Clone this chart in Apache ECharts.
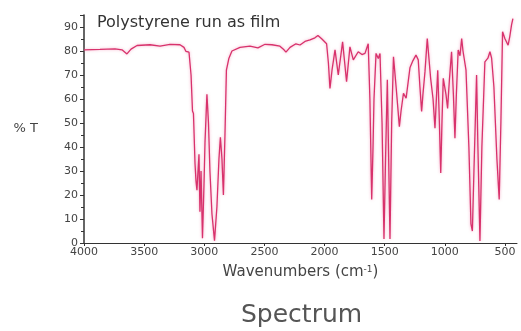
<!DOCTYPE html>
<html>
<head>
<meta charset="utf-8">
<script src="https://cdn.jsdelivr.net/npm/echarts@6/dist/echarts.min.js"></script>
<style>
  html, body { margin: 0; padding: 0; background: #fff; }
  #chart-container { width: 521px; height: 331px; }
</style>
</head>
<body>
<div id="chart-container"></div>
<script>
// IR spectrum of polystyrene
var wavenumbers = [
  4000, 3867, 3742, 3684, 3643, 3609, 3559, 3451, 3368, 3285, 3202, 3169, 3152, 3127,
  3110, 3098, 3090, 3077, 3069, 3061, 3052, 3044, 3036, 3027, 3015, 3002, 2994, 2978,
  2965, 2953, 2936, 2915, 2895, 2878, 2866, 2853, 2841, 2828, 2816, 2795, 2770,
  2703, 2620, 2554, 2495, 2437, 2371, 2337, 2321, 2287, 2238, 2204, 2163, 2121, 2080,
  2055, 2022, 1983, 1968, 1955, 1938, 1913, 1886, 1850, 1817, 1789, 1761, 1720, 1689,
  1664, 1637, 1623, 1608, 1597, 1589, 1572, 1553, 1539, 1522, 1506, 1493, 1478, 1467,
  1456, 1442, 1427, 1405, 1378, 1364, 1344, 1322, 1290, 1265, 1240, 1221, 1207, 1193,
  1182, 1165, 1146, 1118, 1098, 1082, 1059, 1048, 1034, 1024, 1013, 990, 977, 962,
  944, 929, 916, 904, 889, 874, 860, 849, 824, 800, 783, 771, 758, 736, 725, 708,
  692, 667, 642, 625, 611, 592, 567, 548, 534, 520, 501, 474, 460, 445, 434
];
var transmittance = [
  80.5, 80.7, 80.9, 80.5, 78.8, 80.8, 82.3, 82.6, 82.0, 82.8, 82.6, 81.5, 79.8, 79.5,
  70, 55, 54, 33, 26, 22, 30, 37, 13, 30, 2, 25, 42, 62,
  50, 30, 12, 1, 15, 35, 44, 35, 20, 45, 72, 77, 80,
  81.5, 82, 81.3, 82.8, 82.6, 82, 80.5, 79.5, 81.5, 83, 82.5, 84, 84.6, 85.5,
  86.5, 85, 83, 75, 64.4, 72, 80.5, 70, 83.8, 67.2, 81.7, 76.3, 79.7, 78.5,
  79, 83, 60, 18.1, 40, 60, 79, 76.9, 79, 50, 1.7, 35, 68, 35,
  1.7, 50, 77.6, 65, 48.5, 55, 62.4, 60.3, 73, 76, 78.3, 76.3, 65, 54.8,
  62, 71.4, 85.2, 68.6, 60, 47.8, 72, 55, 29.2, 50, 68.6, 61.7, 56.1, 68,
  79.7, 62, 43.7, 62, 80.4, 78, 85.2, 80, 72, 40, 8, 5, 30, 70, 40, 0.8,
  40, 75.5, 77, 79.7, 77, 65, 35, 18.1, 50, 88, 85.2, 82.4, 86, 91, 93.5
];
var xTicks = [4000, 3500, 3000, 2500, 2000, 1500, 1000, 500];

var points = wavenumbers.map(function (w, i) {
  return [w, transmittance[i]];
});

var dom = document.getElementById('chart-container');
var myChart = echarts.init(dom, null, { renderer: 'canvas' });

var option = {
  animation: false,
  textStyle: { fontFamily: 'DejaVu Sans' },
  grid: { left: 84, right: 4, top: 15, bottom: 88 },
  title: {
    text: 'Spectrum',
    left: 236,
    top: 298,
    textStyle: { fontFamily: 'DejaVu Sans', fontSize: 25, fontWeight: 'normal', color: '#555' }
  },
  graphic: [{
    type: 'text',
    left: 97,
    top: 15,
    style: { text: 'Polystyrene run as film', font: '16px "DejaVu Sans"', fill: '#333' }
  }],
  xAxis: {
    type: 'value',
    inverse: true,
    min: 400,
    max: 4000,
    name: 'Wavenumbers (cm{sup|-1})',
    nameLocation: 'middle',
    nameGap: 22,
    nameTextStyle: {
      fontSize: 15, color: '#444', verticalAlign: 'top',
      rich: { sup: { fontSize: 9, color: '#444', verticalAlign: 'top', padding: [0, 0, 6, 0] } }
    },
    axisLine: { lineStyle: { color: '#333', width: 1 } },
    axisTick: { customValues: xTicks, length: 3, lineStyle: { color: '#333' } },
    axisLabel: {
      customValues: xTicks, fontSize: 11, color: '#444', margin: 4,
      formatter: function (v) { return String(v); }
    },
    splitLine: { show: false }
  },
  yAxis: {
    type: 'value',
    min: 0,
    max: 95,
    interval: 10,
    name: '% T',
    nameLocation: 'middle',
    nameRotate: 0,
    nameGap: 46,
    nameTextStyle: { fontSize: 13, color: '#444' },
    axisLine: { show: true, lineStyle: { color: '#333', width: 1.5 } },
    axisTick: { show: true, length: 4, lineStyle: { color: '#333' } },
    minorTick: { show: true, splitNumber: 2, length: 3, lineStyle: { color: '#333' } },
    axisLabel: { fontSize: 11, color: '#444', margin: 6, showMaxLabel: false },
    splitLine: { show: false }
  },
  series: [{
    type: 'line',
    data: points,
    showSymbol: false,
    clip: true,
    lineStyle: {
      color: '#d8326c',
      width: 1.3,
      shadowColor: 'rgba(240,130,170,0.7)',
      shadowBlur: 3
    }
  }]
};

myChart.setOption(option);
window.addEventListener('resize', myChart.resize);
</script>
</body>
</html>
